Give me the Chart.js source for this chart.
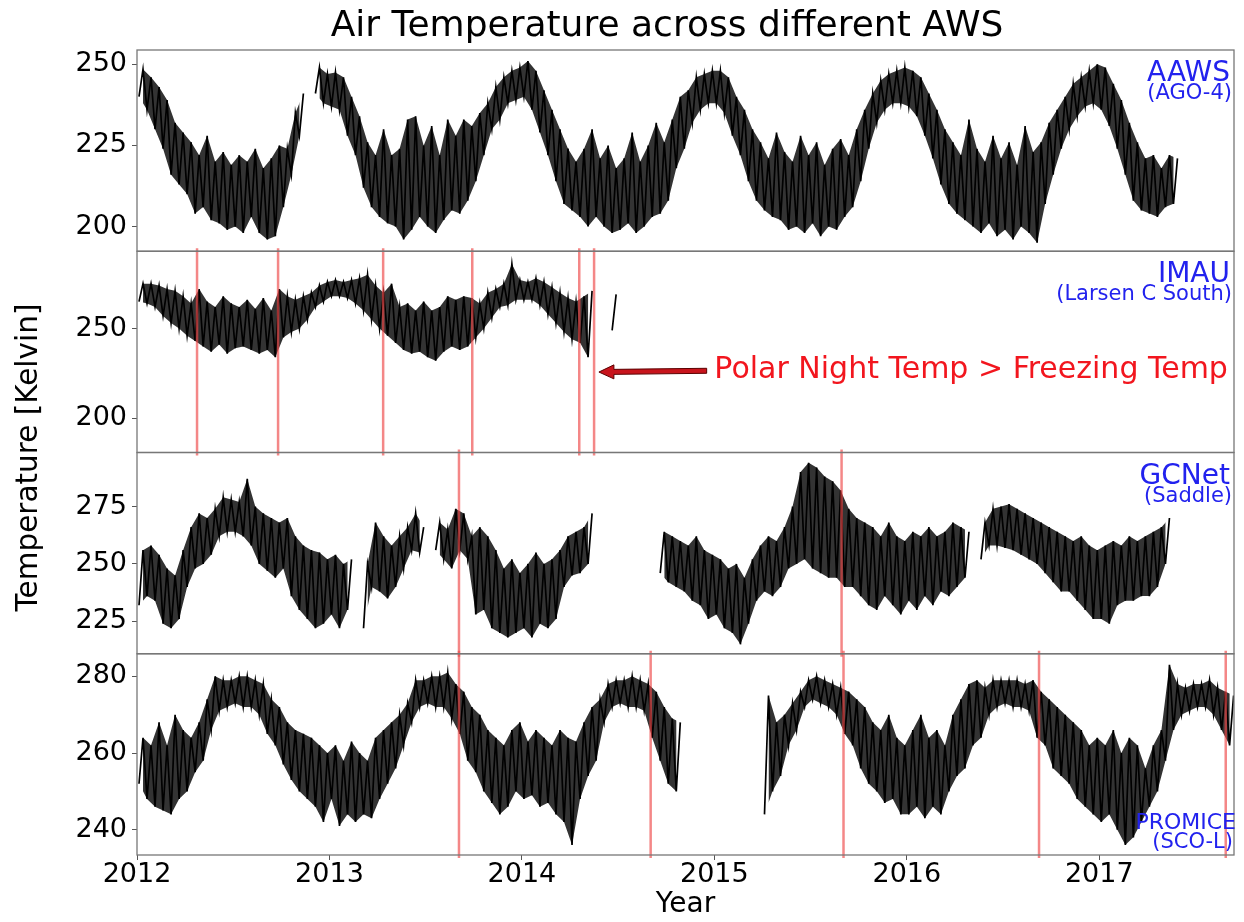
<!DOCTYPE html>
<html>
<head>
<meta charset="utf-8">
<title>Air Temperature across different AWS</title>
<script src="https://cdn.jsdelivr.net/npm/chart.js@4.4.1/dist/chart.umd.min.js"></script>
<style>
  body { margin: 0; background: #fff; }
  #wrap { width: 1244px; height: 922px; }
</style>
</head>
<body>
<div id="wrap"><canvas id="awsChart" width="1244" height="922"></canvas></div>
<script>
// values are read per half month (24 bins per year) starting at 2012.0
const startYear = 2012;
const binsPerYear = 24;
const xMin = 2012;
const xMax = 2017.7;
const yearTicks = [2012, 2013, 2014, 2015, 2016, 2017];

const stations = ["AAWS", "IMAU", "GCNet", "PROMICE"];
const sites = ["(AGO-4)", "(Larsen C South)", "(Saddle)", "(SCO-L)"];
const tempTicks = [[200, 225, 250], [200, 250], [225, 250, 275], [240, 260, 280]];
const tempMin = [192.4, 180.8, 210.9, 233.4];
const tempMax = [254.4, 293.1, 298.5, 285.9];

// AAWS (AGO-4)
const aawsHi = [
  248.5,246,243,239,232,229,226,222,228,220,223,219,222,220,224,218,221,225,224,235,241,null,249,247,
  247.5,246,240,234,226,222,230,222,224,233,234,225,231,222,233,228,233,231,235,238,243,246,248,249,
  251,248,242,236,230,224,220,224,230,221,225,218,221,229,220,225,232,226,233,240,242,246,247,248,
  248,246,240,236,230,226,221,229,223,220,228,222,226,219,224,227,222,230,236,241,245,247,248,249,
  248,246,241,236,230,226,222,233,224,220,228,221,226,219,231,223,226,232,236,240,244,246,248,250,
  249,244,239,232,226,221,222,218,222,221
];
const aawsLo = [
  240,236,230,224,216,213,210,204,206,202,201,199,200,198,203,198,196,197,206,216,228,null,241,238,
  237,236,228,222,212,206,203,201,200,196,199,203,200,198,202,205,204,208,214,222,230,233,238,239,
  240,236,229,222,214,207,205,203,200,203,200,198,199,201,198,200,203,204,208,218,224,232,236,238,
  238,235,228,222,214,208,205,203,202,199,200,198,201,197,200,199,203,206,214,224,232,236,238,238,
  237,234,228,221,213,207,204,202,200,198,201,197,199,196,200,198,195,207,216,224,230,234,237,238,
  236,231,224,216,208,205,204,203,206,207
];

// IMAU (Larsen C South)
const imauHi = [
  275,275,274,272,271,268,264,272,265,262,268,264,262,266,261,267,260,272,268,266,268,270,274,276,
  277,276,277,278,280,274,270,275,262,264,260,265,260,262,268,266,268,267,264,270,272,275,286,277,
  276,278,276,273,270,267,265,268,271,null,null,269
];
const imauLo = [
  265,264,262,257,253,250,246,243,240,237,241,236,239,240,238,236,238,234,245,248,250,255,262,265,
  268,268,267,264,260,255,250,246,242,238,236,237,234,232,237,240,238,240,245,250,256,262,263,266,
  266,266,263,258,253,248,244,242,234,null,null,249
];

// GCNet (Saddle)
const gcnetHi = [
  256,258,254,248,245,256,266,272,270,274,279,278,277,287,275,272,270,268,270,262,258,256,255,252,
  254,250,252,null,250,268,262,258,262,266,272,266,null,268,265,274,272,262,266,262,256,248,252,246,
  250,255,250,252,256,262,264,266,272,null,null,null,null,null,null,null,null,264,262,260,258,262,256,254,
  252,248,250,244,252,258,262,260,266,275,290,294,292,288,286,282,274,270,268,266,262,268,262,260,
  264,262,266,262,264,268,266,264,null,268,274,275,276,274,272,270,268,266,264,262,260,262,258,256,
  258,260,258,262,260,262,264,266,270
];
const gcnetLo = [
  232,236,234,224,222,226,240,248,250,254,262,264,264,262,258,250,247,244,248,236,230,226,222,224,
  228,222,230,null,222,240,238,235,240,248,256,255,null,256,252,248,256,252,228,230,222,220,218,220,
  222,218,224,222,226,240,245,246,250,null,null,null,null,null,null,null,null,246,242,240,238,234,232,226,
  228,222,220,215,224,234,238,236,240,248,250,252,248,246,244,244,240,240,236,232,230,236,232,228,
  234,230,236,232,238,236,240,244,null,252,258,258,257,256,254,252,250,246,242,238,238,234,230,226,
  226,224,232,234,234,236,236,240,250
];

// PROMICE (SCO-L)
const promiceHi = [
  264,262,268,262,270,266,264,268,274,280,279,279,280,280,279,278,274,272,268,266,265,264,262,260,
  262,258,263,260,258,264,266,268,270,273,279,279,280,280,281,278,276,272,270,266,264,262,266,268,
  263,266,264,262,266,264,263,268,272,274,278,279,279,280,279,278,276,272,269,268,null,null,null,null,
  null,null,null,null,null,null,275,268,270,273,276,279,280,279,278,277,276,274,272,268,266,270,264,262,
  266,270,264,266,262,270,274,278,279,277,279,279,279,279,278,279,276,274,272,270,268,266,262,264,
  262,266,260,264,262,256,262,266,283,278,277,278,278,279,277,276,275
];
const promiceLo = [
  252,248,246,245,244,248,250,255,258,266,271,272,273,272,272,270,265,262,257,253,250,248,246,242,
  248,241,244,242,244,243,248,252,256,262,268,272,273,272,272,269,265,258,255,250,247,244,246,250,
  248,249,246,247,244,242,236,248,254,258,268,272,273,272,272,271,264,258,252,250,null,null,null,null,
  null,null,null,null,null,null,244,250,254,262,266,272,274,273,272,270,265,262,256,252,250,247,248,244,
  244,246,243,246,244,250,254,256,262,264,270,272,273,272,272,271,264,262,256,254,252,248,246,244,
  242,244,240,236,238,242,246,250,258,266,270,271,272,272,270,266,262
];

// dates flagged with red lines
const aawsFlags = [];
const imauFlags = [2012.312, 2012.733, 2013.279, 2013.742, 2014.298, 2014.375];
const gcnetFlags = [2013.673, 2015.661];
const promiceFlags = [2013.673, 2014.669, 2015.671, 2016.687, 2017.657];

// annotation in the IMAU panel
const noteText = "Polar Night Temp > Freezing Temp";
const arrowTail = [2014.96, 226.4];
const arrowHead = [2014.40, 225.7];
const noteAt = [2015.0, 222.2];

const seriesLo = [aawsLo, imauLo, gcnetLo, promiceLo];
const seriesHi = [aawsHi, imauHi, gcnetHi, promiceHi];
const seriesFlags = [aawsFlags, imauFlags, gcnetFlags, promiceFlags];

const FONT = "'DejaVu Sans', 'Liberation Sans', sans-serif";

// low point early in the bin, high point late in the bin
function binPoints(vals, offset) {
  return vals.map((v, k) => ({ x: startYear + (k + offset) / binsPerYear, y: v }));
}

// each bin becomes a low then a high point, which gives the spiky band
function zigzag(lo, hi) {
  const pts = [];
  for (let k = 0; k < lo.length; k++) {
    const t = startYear + k / binsPerYear;
    if (lo[k] === null) {
      pts.push({ x: t + 0.5 / binsPerYear, y: null });
      continue;
    }
    pts.push({ x: t + 0.25 / binsPerYear, y: lo[k] });
    pts.push({ x: t + 0.75 / binsPerYear, y: hi[k] });
  }
  return pts;
}

function flagLines(flags, i) {
  const pad = (tempMax[i] - tempMin[i]) * 0.05;
  const pts = [];
  flags.forEach((f) => {
    pts.push({ x: f, y: tempMin[i] - pad });
    pts.push({ x: f, y: tempMax[i] + pad });
    pts.push({ x: f, y: null });
  });
  return pts;
}

const datasets = [];
stations.forEach((name, i) => {
  datasets.push({
    label: name + " flags",
    data: flagLines(seriesFlags[i], i),
    yAxisID: "y" + i,
    borderColor: "rgba(238, 70, 70, 0.65)",
    borderWidth: 2.5,
    pointRadius: 0,
    spanGaps: false,
    clip: 3,
    order: 0,
  });
  datasets.push({
    label: name,
    data: zigzag(seriesLo[i], seriesHi[i]),
    yAxisID: "y" + i,
    borderColor: "#000",
    borderWidth: 1.7,
    pointRadius: 0,
    spanGaps: false,
    tension: 0,
    order: 1,
  });
  // envelope of the band, filled between the low and high points
  datasets.push({
    label: name + " low",
    data: binPoints(seriesLo[i], 0.25),
    yAxisID: "y" + i,
    borderWidth: 0,
    pointRadius: 0,
    spanGaps: false,
    fill: false,
    order: 2,
  });
  datasets.push({
    label: name + " high",
    data: binPoints(seriesHi[i], 0.75),
    yAxisID: "y" + i,
    borderWidth: 0,
    pointRadius: 0,
    spanGaps: false,
    fill: "-1",
    backgroundColor: "rgba(0, 0, 0, 0.8)",
    order: 2,
  });
});

const tickFont = { family: FONT, size: 27, lineHeight: 1 };

const scales = {
  x: {
    type: "linear",
    min: xMin,
    max: xMax,
    afterBuildTicks: (s) => { s.ticks = yearTicks.map((v) => ({ value: v })); },
    afterFit: (s) => { s.height = 67; },
    ticks: { font: tickFont, color: "#000", padding: 1, callback: (v) => String(v) },
    grid: { drawOnChartArea: false, tickLength: 5, color: "#555" },
    border: { display: false },
    title: { display: true, text: "Year", color: "#000", font: { family: FONT, size: 28 }, padding: 0 },
  },
};
stations.forEach((name, i) => {
  scales["y" + i] = {
    type: "linear",
    position: "left",
    stack: "aws",
    stackWeight: 1,
    weight: 4 - i,
    min: tempMin[i],
    max: tempMax[i],
    afterBuildTicks: (s) => { s.ticks = tempTicks[i].map((v) => ({ value: v })); },
    afterFit: (s) => { s.width = 137; },
    ticks: { font: tickFont, color: "#000", padding: 5 },
    grid: { drawOnChartArea: false, tickLength: 5, color: "#555" },
    border: { display: false },
  };
});

const decorations = {
  id: "decorations",
  afterDatasetsDraw(chart) {
    const ctx = chart.ctx;
    const area = chart.chartArea;
    const x = chart.scales.x;
    ctx.save();

    // panel frames
    ctx.strokeStyle = "#777";
    ctx.lineWidth = 1.3;
    stations.forEach((name, i) => {
      const s = chart.scales["y" + i];
      ctx.strokeRect(area.left, s.top, area.right - area.left, s.bottom - s.top);
    });

    // station names
    ctx.fillStyle = "#2222ee";
    ctx.textAlign = "right";
    ctx.textBaseline = "alphabetic";
    stations.forEach((name, i) => {
      const s = chart.scales["y" + i];
      if (i === 3) {
        ctx.font = "22px " + FONT;
        ctx.fillText(name, area.right + 2, s.bottom - 26);
        ctx.font = "21px " + FONT;
        ctx.fillText(sites[i], area.right - 1, s.bottom - 7);
      } else {
        ctx.font = "28px " + FONT;
        ctx.fillText(name, area.right - 4, s.top + 31);
        ctx.font = "21px " + FONT;
        ctx.fillText(sites[i], area.right - 2, s.top + 49);
      }
    });

    // arrow and note in the IMAU panel
    const y1 = chart.scales.y1;
    const tx = x.getPixelForValue(arrowTail[0]);
    const ty = y1.getPixelForValue(arrowTail[1]);
    const hx = x.getPixelForValue(arrowHead[0]);
    const hy = y1.getPixelForValue(arrowHead[1]);
    const headLen = 15, headHalf = 7, shaftHalf = 2.5;
    const bx = hx + headLen;
    const by = hy + (ty - hy) * (headLen / (tx - hx));
    ctx.beginPath();
    ctx.moveTo(tx, ty - shaftHalf);
    ctx.lineTo(bx, by - shaftHalf);
    ctx.lineTo(bx, by - headHalf);
    ctx.lineTo(hx, hy);
    ctx.lineTo(bx, by + headHalf);
    ctx.lineTo(bx, by + shaftHalf);
    ctx.lineTo(tx, ty + shaftHalf);
    ctx.closePath();
    ctx.fillStyle = "#c8141c";
    ctx.fill();
    ctx.strokeStyle = "#5a0000";
    ctx.lineWidth = 1;
    ctx.stroke();

    ctx.fillStyle = "#f2161e";
    ctx.font = "30px " + FONT;
    ctx.textAlign = "left";
    ctx.fillText(noteText, x.getPixelForValue(noteAt[0]), y1.getPixelForValue(noteAt[1]));

    // title
    ctx.fillStyle = "#000";
    ctx.font = "36px " + FONT;
    ctx.textAlign = "center";
    ctx.fillText("Air Temperature across different AWS", 667, 36);

    // shared y-axis label
    ctx.translate(37, (area.top + area.bottom) / 2 + 5);
    ctx.rotate(-Math.PI / 2);
    ctx.font = "29.5px " + FONT;
    ctx.fillText("Temperature [Kelvin]", 0, 0);
    ctx.restore();
  },
};

new Chart(document.getElementById("awsChart"), {
  type: "line",
  data: { datasets: datasets },
  options: {
    responsive: false,
    animation: false,
    events: [],
    layout: { padding: { top: 50, right: 10, left: 0, bottom: 0 } },
    plugins: { legend: { display: false }, tooltip: { enabled: false }, title: { display: false } },
    scales: scales,
  },
  plugins: [decorations],
});
</script>
</body>
</html>
